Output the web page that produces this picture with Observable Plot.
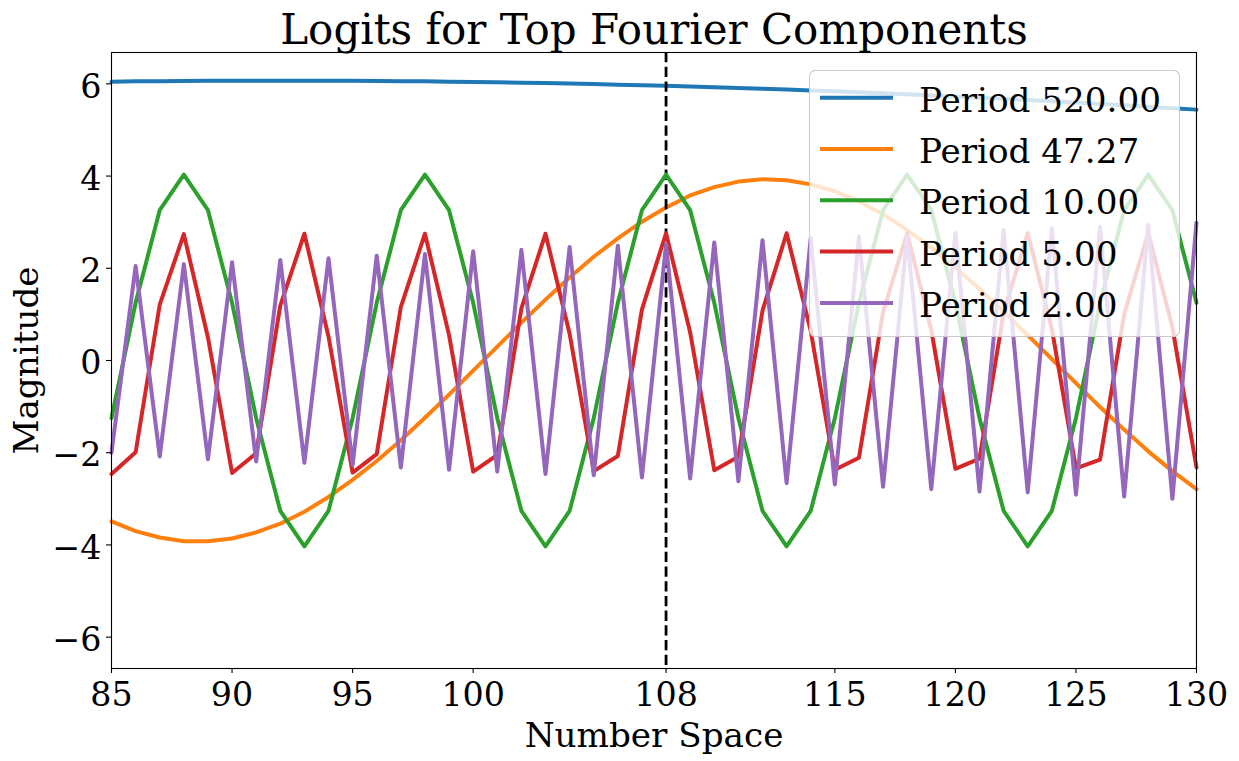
<!DOCTYPE html>
<html>
<head>
<meta charset="utf-8">
<script src="https://cdn.jsdelivr.net/npm/d3@7"></script>
<script src="https://cdn.jsdelivr.net/npm/@observablehq/plot@0.6"></script>
<style>
  html, body { margin: 0; padding: 0; background: #fff; }
  #wrap { position: relative; width: 1239px; height: 761px; font-family: "DejaVu Serif", serif; }
  #legend { position: absolute; left: 809px; top: 70px; }
</style>
</head>
<body>
<div id="wrap"><div id="chart"></div><svg id="legend" width="371" height="267"></svg></div>
<script>
const title = "Logits for Top Fourier Components";
const xLabel = "Number Space";
const yLabel = "Magnitude";
const xTicks = [85, 90, 95, 100, 108, 115, 120, 125, 130];
const yTicks = [-6, -4, -2, 0, 2, 4, 6];
const markerX = 108;
const seriesLabels = ["Period 520.00", "Period 47.27", "Period 10.00", "Period 5.00", "Period 2.00"];
const seriesColors = ["#1f77b4", "#ff7f0e", "#2ca02c", "#d62728", "#9467bd"];

const xs = [85, 86, 87, 88, 89, 90, 91, 92, 93, 94, 95, 96, 97, 98, 99, 100, 101, 102, 103, 104, 105, 106, 107, 108,
  109, 110, 111, 112, 113, 114, 115, 116, 117, 118, 119, 120, 121, 122, 123, 124, 125, 126, 127, 128, 129, 130];

const p520 = [6.048, 6.054, 6.059, 6.063, 6.066, 6.068, 6.070, 6.070, 6.070, 6.068, 6.066, 6.063, 6.059, 6.054, 6.048,
  6.042, 6.034, 6.026, 6.016, 6.006, 5.995, 5.983, 5.971, 5.957, 5.942, 5.927, 5.911, 5.894, 5.876, 5.857, 5.837,
  5.817, 5.795, 5.773, 5.750, 5.726, 5.701, 5.675, 5.649, 5.622, 5.594, 5.565, 5.535, 5.505, 5.473, 5.441];

const p4727 = [-3.49, -3.70, -3.84, -3.92, -3.92, -3.86, -3.73, -3.54, -3.28, -2.96,
  -2.59, -2.18, -1.73, -1.24, -0.74, -0.22, 0.30, 0.82, 1.32, 1.80,
  2.25, 2.65, 3.01, 3.32, 3.58, 3.76, 3.88, 3.93, 3.91, 3.82,
  3.67, 3.45, 3.17, 2.83, 2.45, 2.02, 1.55, 1.06, 0.55, 0.03,
  -0.49, -1.01, -1.50, -1.97, -2.40, -2.79];

const p10 = [-1.25, 1.25, 3.26, 4.03, 3.26, 1.25, -1.25, -3.26, -4.03, -3.26,
  -1.25, 1.25, 3.26, 4.03, 3.26, 1.25, -1.25, -3.26, -4.03, -3.26,
  -1.25, 1.25, 3.26, 4.03, 3.26, 1.25, -1.25, -3.26, -4.03, -3.26,
  -1.25, 1.25, 3.26, 4.03, 3.26, 1.25, -1.25, -3.26, -4.03, -3.26,
  -1.25, 1.25, 3.26, 4.03, 3.26, 1.25];

const p5 = [-2.46, -1.99, 1.21, 2.74, 0.50, -2.44, -2.01, 1.19, 2.75, 0.52,
  -2.43, -2.03, 1.16, 2.75, 0.55, -2.41, -2.05, 1.13, 2.75, 0.58,
  -2.40, -2.07, 1.11, 2.76, 0.61, -2.38, -2.09, 1.08, 2.76, 0.64,
  -2.37, -2.11, 1.05, 2.76, 0.66, -2.35, -2.13, 1.03, 2.76, 0.69,
  -2.34, -2.15, 1.00, 2.77, 0.72, -2.32];

const p2 = [-2.00, 2.05, -2.08, 2.09, -2.14, 2.13, -2.19, 2.18, -2.22, 2.22,
  -2.26, 2.27, -2.32, 2.31, -2.37, 2.37, -2.41, 2.40, -2.46, 2.46,
  -2.49, 2.49, -2.54, 2.52, -2.56, 2.56, -2.62, 2.61, -2.66, 2.65,
  -2.69, 2.69, -2.74, 2.72, -2.79, 2.77, -2.84, 2.83, -2.86, 2.87,
  -2.91, 2.90, -2.95, 2.94, -3.00, 2.99];

const seriesValues = [p520, p4727, p10, p5, p2];
const tables = seriesValues.map((vals, i) => xs.map((x, j) => ({x, y: vals[j], s: seriesLabels[i]})));

const fmt = d => d < 0 ? "\u2212" + Math.abs(d) : String(d);
const FS = 33.3;
const LFS = 34.2;
const LW = 4.0;

const lineMarks = tables.map((t, i) => Plot.line(t, {x: "x", y: "y", stroke: seriesColors[i], strokeWidth: LW, strokeLinejoin: "round"}));

const chart = Plot.plot({
  width: 1239,
  height: 761,
  marginLeft: 111,
  marginRight: 43,
  marginTop: 52,
  marginBottom: 93,
  style: {fontFamily: "DejaVu Serif", color: "black", background: "white"},
  x: {domain: [85, 130]},
  y: {domain: [-6.68, 6.68]},
  marks: [
    ...lineMarks.slice(0, 2),
    Plot.ruleX([markerX], {stroke: "black", strokeWidth: 2.8, strokeDasharray: "10.3,4.4"}),
    ...lineMarks.slice(2),
    Plot.frame({stroke: "black", strokeWidth: 1.1}),
    Plot.axisX({ticks: xTicks, tickSize: 5, tickPadding: 9, fontSize: FS, label: null, tickFormat: fmt, strokeWidth: 1.1}),
    Plot.axisY({ticks: yTicks, tickSize: 5, tickPadding: 5, fontSize: FS, label: null, tickFormat: fmt, strokeWidth: 1.1, text: null}),
    Plot.text(yTicks, {x: 85, y: d => d, text: fmt, textAnchor: "end", dx: -10, dy: 3, fontSize: FS, fill: "black"}),
    Plot.text([title], {frameAnchor: "top", lineAnchor: "bottom", dy: -8.5, fontSize: 42, fill: "black"}),
    Plot.text([xLabel], {frameAnchor: "bottom", lineAnchor: "bottom", dy: 78, fontSize: LFS, fill: "black"}),
    Plot.text([yLabel], {frameAnchor: "left", textAnchor: "middle", lineAnchor: "bottom", rotate: -90, dx: -74, fontSize: LFS, fill: "black"})
  ]
});
document.getElementById("chart").appendChild(chart);

// legend
const lg = d3.select("#legend");
lg.append("rect").attr("x", 0.5).attr("y", 0.5).attr("width", 370).attr("height", 266)
  .attr("rx", 6).attr("fill", "rgba(255,255,255,0.8)").attr("stroke", "#cccccc").attr("stroke-width", 1.1);
seriesLabels.forEach((lab, i) => {
  const cy = 27.7 + i * 51.3;
  lg.append("line").attr("x1", 11).attr("x2", 84).attr("y1", cy).attr("y2", cy)
    .attr("stroke", seriesColors[i]).attr("stroke-width", LW);
  lg.append("text").attr("x", 110).attr("y", cy + 14).attr("font-size", LFS)
    .attr("font-family", "DejaVu Serif").attr("fill", "black").text(lab);
});
</script>
</body>
</html>
